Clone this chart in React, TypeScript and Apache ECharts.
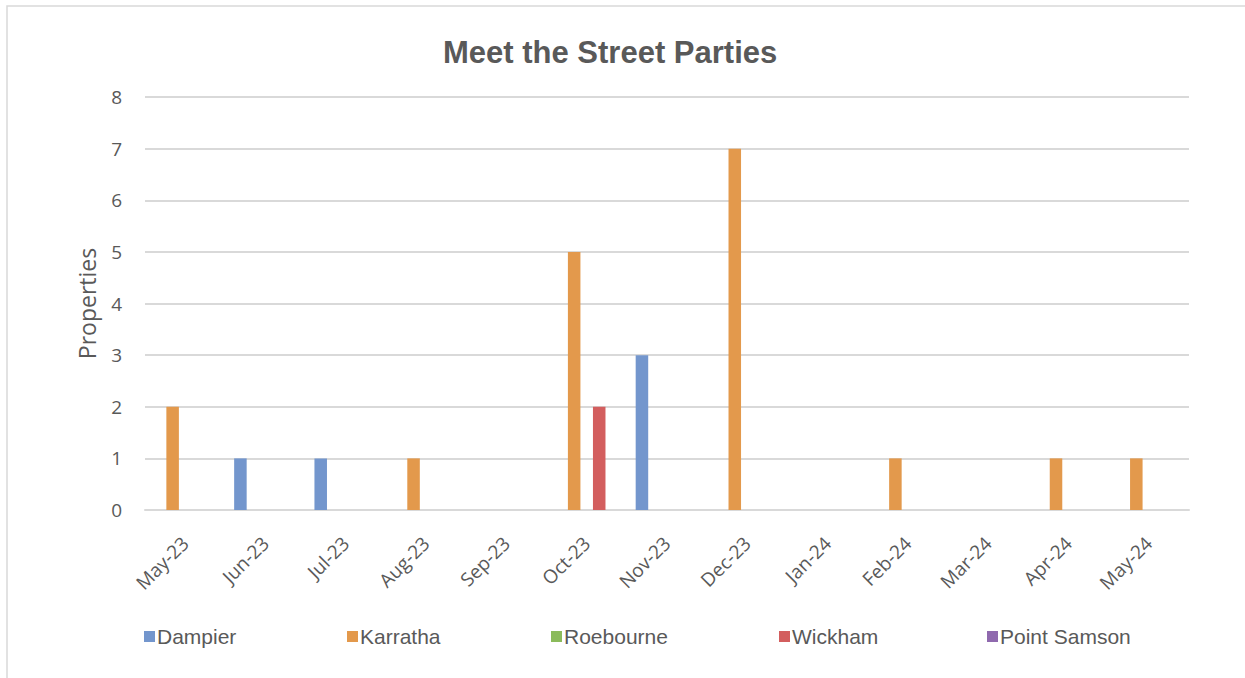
import React, { useEffect, useRef } from "react";
import * as echarts from "echarts";

const categories = ["May-23", "Jun-23", "Jul-23", "Aug-23", "Sep-23", "Oct-23", "Nov-23", "Dec-23", "Jan-24", "Feb-24", "Mar-24", "Apr-24", "May-24"];
const dampier = [null, 1, 1, null, null, null, 3, null, null, null, null, null, null];
const karratha = [2, null, null, 1, null, 5, null, 7, null, 1, null, 1, 1];
const roebourne = [null, null, null, null, null, null, null, null, null, null, null, null, null];
const wickham = [null, null, null, null, null, 2, null, null, null, null, null, null, null];
const pointSamson = [null, null, null, null, null, null, null, null, null, null, null, null, null];
const seriesNames = ["Dampier", "Karratha", "Roebourne", "Wickham", "Point Samson"];
const seriesColors = ["#7396CD", "#E3994C", "#8BBB5B", "#D35E5E", "#8F69AE"];
const seriesData = [dampier, karratha, roebourne, wickham, pointSamson];
const legendLeft = [139, 342, 546, 774, 982];

export default function App() {
  const ref = useRef<HTMLDivElement>(null);
  useEffect(() => {
    if (!ref.current) return;
    const chart = echarts.init(ref.current, null, { renderer: "svg" });
    chart.setOption({
      animation: false,
      backgroundColor: "#ffffff",
      title: {
        text: "Meet the Street Parties",
        left: 438,
        top: 32,
        textStyle: { fontFamily: "Liberation Sans", fontSize: 31, fontWeight: "bold", color: "#595959" },
      },
      graphic: [
        {
          type: "rect",
          shape: { x: 7, y: 6, width: 1260, height: 700 },
          style: { fill: "none", stroke: "#d9d9d9", lineWidth: 1.5 },
          silent: true,
        },
      ],
      legend: seriesNames.map((n, i) => ({
        data: [n],
        left: legendLeft[i],
        top: 621,
        icon: "rect",
        itemWidth: 11,
        itemHeight: 11,
        itemGap: 0,
        textStyle: { fontFamily: "Liberation Sans", fontSize: 21, color: "#595959", padding: [0, 0, 0, -3] },
        selectedMode: false,
      })),
      grid: { left: 145, right: 56, top: 97, bottom: 168, containLabel: false },
      xAxis: {
        type: "category",
        data: categories,
        axisLine: { lineStyle: { color: "#d9d9d9", width: 2 } },
        axisTick: { show: false },
        axisLabel: { rotate: 45, fontFamily: "Open Sans", fontSize: 19, color: "#595959", margin: 30, interval: 0 },
      },
      yAxis: {
        type: "value",
        min: 0,
        max: 8,
        interval: 1,
        name: "Properties",
        nameLocation: "middle",
        nameGap: 47,
        nameTextStyle: { fontFamily: "Open Sans", fontSize: 23, color: "#595959" },
        axisLabel: { fontFamily: "Open Sans", fontSize: 19, color: "#595959", margin: 23 },
        splitLine: { lineStyle: { color: "#d9d9d9", width: 2 } },
        axisLine: { show: false },
        axisTick: { show: false },
      },
      series: seriesNames.map((n, i) => ({
        name: n,
        type: "bar",
        data: seriesData[i],
        itemStyle: { color: seriesColors[i] },
        barGap: "0%",
        barCategoryGap: "22%",
      })),
    });
    return () => chart.dispose();
  }, []);
  return <div ref={ref} style={{ position: "fixed", left: 0, top: 0, width: 1245, height: 678 }} />;
}
